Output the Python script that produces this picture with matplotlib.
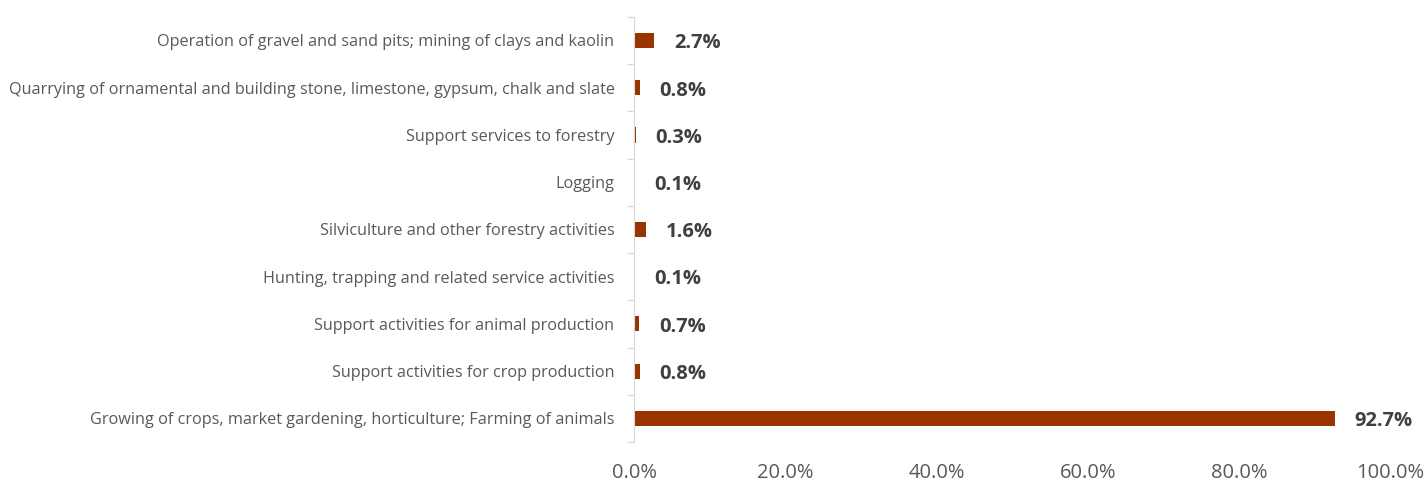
import numpy as np
import matplotlib.pyplot as plt
from matplotlib.ticker import FuncFormatter, FixedLocator

plt.rcParams['font.family'] = ['Open Sans', 'DejaVu Sans']

# activities, bottom to top
activities = [
    "Growing of crops, market gardening, horticulture; Farming of animals",
    "Support activities for crop production",
    "Support activities for animal production",
    "Hunting, trapping and related service activities",
    "Silviculture and other forestry activities",
    "Logging",
    "Support services to forestry",
    "Quarrying of ornamental and building stone, limestone, gypsum, chalk and slate",
    "Operation of gravel and sand pits; mining of clays and kaolin",
]
shares = [92.7, 0.8, 0.7, 0.1, 1.6, 0.1, 0.3, 0.8, 2.7]
xticks = [0, 20, 40, 60, 80, 100]

bar_color = "#993300"
value_color = "#404040"
label_color = "#595959"
grid_color = "#d9d9d9"

fig = plt.figure(figsize=(14.28, 4.82), dpi=100)
ax = fig.add_axes([0.444, 0.083, 0.5297, 0.882])

y = np.arange(len(activities))
ax.barh(y, shares, height=0.32, color=bar_color)

for yi, v in zip(y, shares):
    ax.annotate(f"{v:.1f}%", xy=(v, yi), xytext=(14, -2), textcoords="offset points",
                ha="left", va="center", fontsize=14.5, fontweight="bold", color=value_color)

ax.set_xlim(0, 100)
ax.set_ylim(-0.5, len(activities) - 0.5)
ax.set_xticks(xticks)
ax.xaxis.set_major_formatter(FuncFormatter(lambda v, p: f"{v:.1f}%"))
ax.tick_params(axis="x", length=0, pad=15, labelsize=14.5, labelcolor=label_color)

ax.set_yticks(y)
ax.set_yticklabels(activities)
ax.tick_params(axis="y", which="major", length=0, pad=14, labelsize=11.7, labelcolor=label_color)
ax.yaxis.set_minor_locator(FixedLocator(np.arange(-0.5, len(activities), 1.0)))
ax.tick_params(axis="y", which="minor", length=5, width=1, color=grid_color)

for side in ["top", "right", "bottom"]:
    ax.spines[side].set_visible(False)
ax.spines["left"].set_color(grid_color)

fig.savefig("out.png", dpi=100)
